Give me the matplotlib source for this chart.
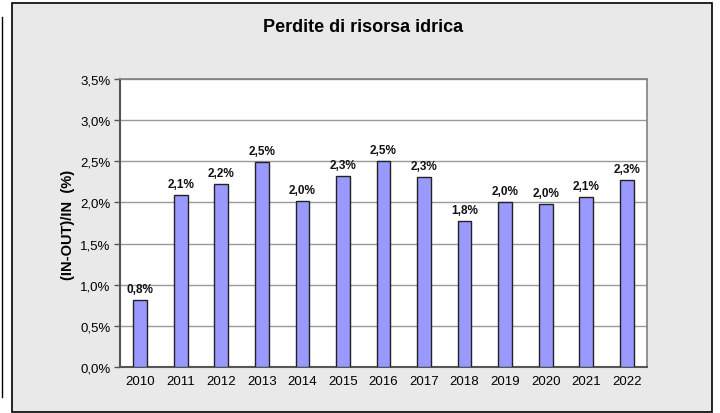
import matplotlib.pyplot as plt
from matplotlib.patches import Rectangle
from matplotlib.lines import Line2D
import numpy as np

years = ["2010", "2011", "2012", "2013", "2014", "2015", "2016",
         "2017", "2018", "2019", "2020", "2021", "2022"]
losses = [0.82, 2.09, 2.22, 2.49, 2.02, 2.32, 2.50, 2.31, 1.77, 2.00, 1.98, 2.07, 2.27]
labels = ["0,8%", "2,1%", "2,2%", "2,5%", "2,0%", "2,3%", "2,5%",
          "2,3%", "1,8%", "2,0%", "2,0%", "2,1%", "2,3%"]

plt.rcParams['font.family'] = ['Liberation Sans', 'DejaVu Sans']

W, H = 720, 414
fig = plt.figure(figsize=(7.2, 4.14), dpi=100)
fig.patch.set_facecolor('white')

# chart area with grey background and black border
fig.patches.append(Rectangle((12 / W, 1 - 413 / H), 700 / W, 409 / H,
                             transform=fig.transFigure, facecolor='#e9e9e9',
                             edgecolor='black', linewidth=1.2, zorder=-5))
# thin line on the far left
fig.lines.append(Line2D([2 / W, 2 / W], [1 - 18 / H, 1 - 398 / H],
                        transform=fig.transFigure, color='black', linewidth=1,
                        zorder=-5))

ax = fig.add_axes([120 / W, 1 - 368 / H, 527 / W, 288 / H])
ax.set_zorder(2)
ax.set_facecolor('white')

x = np.arange(len(years))
ax.bar(x, losses, width=0.34, color='#9999ff', edgecolor='#222222',
       linewidth=1.0, zorder=3)
for xi, v, lab in zip(x, losses, labels):
    ax.text(xi, v + 0.06, lab, ha='center', va='bottom', fontsize=8.5,
            fontweight='bold', color='#111111', zorder=4)

ax.set_xlim(-0.5, len(years) - 0.5)
ax.set_ylim(0, 3.5)
ax.set_yticks(np.arange(0, 3.51, 0.5))
ax.set_yticklabels([f"{t:.1f}%".replace('.', ',') for t in np.arange(0, 3.51, 0.5)])
ax.set_xticks(x)
ax.set_xticklabels(years)
ax.tick_params(axis='y', length=4, width=1, color='#555555', labelsize=9.5,
               pad=3, direction='out')
ax.tick_params(axis='x', length=0, labelsize=9.5, pad=6)
ax.yaxis.grid(True, color='#999999', linewidth=1, zorder=0)
ax.set_axisbelow(True)

for side in ['top', 'right']:
    ax.spines[side].set_color('#808080')
    ax.spines[side].set_linewidth(1.2)
for side in ['left', 'bottom']:
    ax.spines[side].set_color('#555555')
    ax.spines[side].set_linewidth(1.5)

fig.text(363 / W, 1 - 27 / H, "Perdite di risorsa idrica", ha='center',
         va='center', fontsize=13, fontweight='bold', zorder=3)
fig.text(68 / W, 1 - 225 / H, "(IN-OUT)/IN  (%)", ha='center', va='center',
         rotation=90, fontsize=10.5, fontweight='bold', zorder=3)

fig.savefig('out.png', dpi=100, facecolor=fig.get_facecolor())
